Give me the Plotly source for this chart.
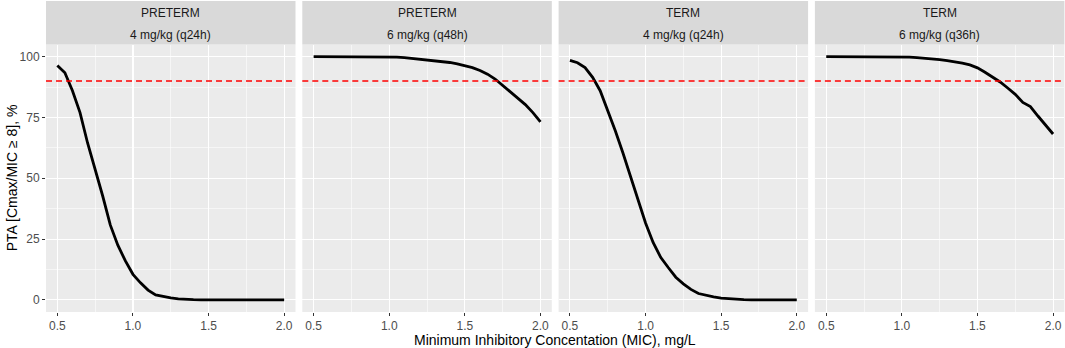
import plotly.graph_objects as go

mic = [0.5, 0.55, 0.6, 0.65, 0.7, 0.75, 0.8, 0.85, 0.9, 0.95, 1.0, 1.05, 1.1, 1.15,
       1.2, 1.25, 1.3, 1.35, 1.4, 1.45, 1.5, 1.55, 1.6, 1.65, 1.7, 1.75, 1.8, 1.85,
       1.9, 1.95, 2.0]

preterm_4_q24 = [96.4, 93.4, 86.0, 77.0, 64.5, 53.9, 42.7, 30.8, 22.5, 16.0, 10.5, 7.0,
                 4.0, 2.0, 1.3, 0.8, 0.4, 0.15, 0.05, 0, 0, 0, 0, 0, 0, 0, 0, 0, 0, 0, 0]
preterm_6_q48 = [100, 100, 100, 100, 100, 100, 100, 100, 100, 100, 100, 99.8, 99.6, 99.3,
                 99.0, 98.7, 98.4, 98.1, 97.6, 97.0, 96.4, 95.5, 94.3, 92.8, 90.8, 88.2,
                 85.3, 82.8, 80.3, 77.0, 73.2]
term_4_q24 = [98.5, 97.5, 95.5, 91.5, 86.0, 78.0, 69.5, 60.5, 50.6, 40.8, 31.6, 23.6,
              17.5, 13.3, 9.3, 6.6, 4.3, 2.6, 1.8, 1.2, 0.7, 0.4, 0.2, 0.1, 0, 0, 0, 0, 0, 0, 0]
term_6_q36 = [100, 100, 100, 100, 100, 100, 100, 100, 100, 100, 100, 99.8, 99.6, 99.4,
              99.1, 98.8, 98.4, 98.0, 97.3, 96.6, 95.4, 93.6, 91.6, 89.6, 87.1, 84.5,
              81.2, 79.5, 75.6, 71.8, 68.2]

panel_groups = ["PRETERM", "PRETERM", "TERM", "TERM"]
panel_regimens = ["4 mg/kg (q24h)", "6 mg/kg (q48h)", "4 mg/kg (q24h)", "6 mg/kg (q36h)"]
series = [preterm_4_q24, preterm_6_q48, term_4_q24, term_6_q36]
target = 90

x_ticks = [0.5, 1.0, 1.5, 2.0]
x_tick_labels = ["0.5", "1.0", "1.5", "2.0"]
y_ticks = [0, 25, 50, 75, 100]
y_tick_labels = ["0", "25", "50", "75", "100"]

W, H = 1065, 348
panel_px = [(46, 295.5), (302.3, 551.8), (558.6, 808.1), (814.9, 1064.4)]
top_px, bot_px = 44.5, 312
strip_top_px = 1

FONT = "Liberation Sans, Arial, sans-serif"

fig = go.Figure()
layout = dict(
    width=W, height=H,
    margin=dict(l=0, r=0, t=0, b=0),
    paper_bgcolor="white", plot_bgcolor="white",
    showlegend=False,
    font=dict(family=FONT),
)
shapes = []
annotations = []

ydom = [(H - bot_px) / H, (H - top_px) / H]
for i, (x0, x1) in enumerate(panel_px):
    n = "" if i == 0 else str(i + 1)
    xa = "x" + n
    ya = "y" + n
    fig.add_trace(go.Scatter(x=mic, y=series[i], mode="lines",
                             line=dict(color="black", width=2.8),
                             xaxis=xa, yaxis=ya, hoverinfo="skip"))
    layout["xaxis" + n] = dict(
        domain=[x0 / W, x1 / W], anchor=ya, range=[0.425, 2.075],
        tickvals=x_ticks, ticktext=x_tick_labels,
        showgrid=True, gridcolor="white", gridwidth=1.1,
        minor=dict(showgrid=True, gridcolor="white", gridwidth=0.55,
                   tickvals=[0.75, 1.25, 1.75]),
        zeroline=False, showline=False,
        ticks="outside", ticklen=3, tickcolor="#333333", tickwidth=1,
        tickfont=dict(size=12, color="#4D4D4D", family=FONT),
        fixedrange=True,
    )
    layout["yaxis" + n] = dict(
        domain=ydom, anchor=xa, range=[-5, 105],
        tickvals=y_ticks, ticktext=y_tick_labels,
        showgrid=True, gridcolor="white", gridwidth=1.1,
        minor=dict(showgrid=True, gridcolor="white", gridwidth=0.55,
                   tickvals=[12.5, 37.5, 62.5, 87.5]),
        zeroline=False, showline=False,
        ticks="outside" if i == 0 else "", ticklen=3, tickcolor="#333333", tickwidth=1,
        showticklabels=(i == 0),
        tickfont=dict(size=12, color="#4D4D4D", family=FONT),
        fixedrange=True,
    )
    # panel background
    shapes.append(dict(type="rect", xref=xa + " domain", yref=ya + " domain",
                       x0=0, x1=1, y0=0, y1=1, fillcolor="#EBEBEB",
                       line=dict(width=0), layer="below"))
    # target line
    shapes.append(dict(type="line", xref=xa + " domain", yref=ya,
                       x0=0, x1=1, y0=target, y1=target,
                       line=dict(color="red", width=1.3, dash="6px,4px"), layer="above"))
    # strip
    shapes.append(dict(type="rect", xref="paper", yref="paper",
                       x0=x0 / W, x1=x1 / W,
                       y0=(H - top_px) / H, y1=(H - strip_top_px) / H,
                       fillcolor="#D9D9D9", line=dict(width=0)))
    cx = (x0 + x1) / 2 / W
    annotations.append(dict(text=panel_groups[i], xref="paper", yref="paper",
                            x=cx, y=(H - 13) / H, showarrow=False,
                            xanchor="center", yanchor="middle",
                            font=dict(size=12, color="#1A1A1A", family=FONT)))
    annotations.append(dict(text=panel_regimens[i], xref="paper", yref="paper",
                            x=cx, y=(H - 35) / H, showarrow=False,
                            xanchor="center", yanchor="middle",
                            font=dict(size=12, color="#1A1A1A", family=FONT)))

annotations.append(dict(text="Minimum Inhibitory Concentation (MIC), mg/L",
                        xref="paper", yref="paper", x=(46 + 1064.4) / 2 / W,
                        y=(H - 340) / H, showarrow=False,
                        xanchor="center", yanchor="middle",
                        font=dict(size=14, color="black", family=FONT)))
annotations.append(dict(text="PTA [Cmax/MIC \u2265 8], %",
                        xref="paper", yref="paper", x=12 / W,
                        y=(H - (top_px + bot_px) / 2) / H, showarrow=False,
                        textangle=-90, xanchor="center", yanchor="middle",
                        font=dict(size=14, color="black", family=FONT)))

layout["shapes"] = shapes
layout["annotations"] = annotations
fig.update_layout(**layout)
fig.write_html("out.html", config={"displayModeBar": False, "staticPlot": True})

with open("out.html", "r", encoding="utf-8") as f:
    html = f.read()
html = html.replace("<head>", "<head><style>html,body{margin:0;padding:0;overflow:hidden;}</style>", 1)
with open("out.html", "w", encoding="utf-8") as f:
    f.write(html)
